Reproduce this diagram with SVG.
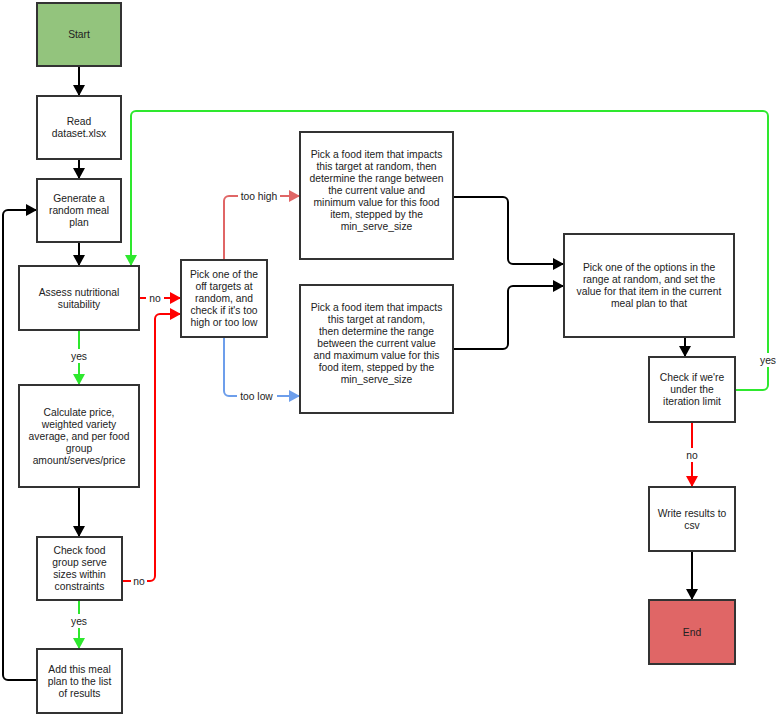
<svg xmlns="http://www.w3.org/2000/svg" width="778" height="715" viewBox="0 0 778 715">
<style>
.box{fill:#fff;stroke:#333;stroke-width:2}
.t{font-family:"Liberation Sans",Arial,sans-serif;font-size:10.3px;fill:#222;text-anchor:middle}
.c{fill:none;stroke-width:2}
.k{stroke:#000}
.r{stroke:#f00}
.g{stroke:#2ee82e}
.lr{stroke:#e06666}
.bl{stroke:#6d9eeb}
.lbl{fill:#fff}
</style>
<defs>
<marker id="ak" markerUnits="userSpaceOnUse" markerWidth="12" markerHeight="12" refX="11" refY="6" orient="auto"><path d="M0,0 L11,6 L0,12 z" fill="#000"/></marker>
<marker id="ar" markerUnits="userSpaceOnUse" markerWidth="12" markerHeight="12" refX="11" refY="6" orient="auto"><path d="M0,0 L11,6 L0,12 z" fill="#f00"/></marker>
<marker id="ag" markerUnits="userSpaceOnUse" markerWidth="12" markerHeight="12" refX="11" refY="6" orient="auto"><path d="M0,0 L11,6 L0,12 z" fill="#2ee82e"/></marker>
<marker id="alr" markerUnits="userSpaceOnUse" markerWidth="12" markerHeight="12" refX="11" refY="6" orient="auto"><path d="M0,0 L11,6 L0,12 z" fill="#e06666"/></marker>
<marker id="abl" markerUnits="userSpaceOnUse" markerWidth="12" markerHeight="12" refX="11" refY="6" orient="auto"><path d="M0,0 L11,6 L0,12 z" fill="#6d9eeb"/></marker>
</defs>

<g id="connectors">
<path class="c k" d="M79,66 V96" marker-end="url(#ak)"/>
<path class="c k" d="M79,159 V179" marker-end="url(#ak)"/>
<path class="c k" d="M79,242 V266" marker-end="url(#ak)"/>
<path class="c g" d="M79,330 V385" marker-end="url(#ag)"/>
<path class="c k" d="M79,487 V537" marker-end="url(#ak)"/>
<path class="c g" d="M79,600 V649" marker-end="url(#ag)"/>
<path class="c k" d="M36,680 H8 A5,5 0 0 1 3,675 V215 A5,5 0 0 1 8,210 H37" marker-end="url(#ak)"/>
<path class="c r" d="M139,298 H181" marker-end="url(#ar)"/>
<path class="c r" d="M122,581 H150 A5,5 0 0 0 155,576 V319 A5,5 0 0 1 160,314 H181" marker-end="url(#ar)"/>
<path class="c lr" d="M224,260 V201 A5,5 0 0 1 229,196 H300" marker-end="url(#alr)"/>
<path class="c bl" d="M224,337 V391 A5,5 0 0 0 229,396 H300" marker-end="url(#abl)"/>
<path class="c k" d="M453,197 H503 A5,5 0 0 1 508,202 V259 A5,5 0 0 0 513,264 H564" marker-end="url(#ak)"/>
<path class="c k" d="M453,349 H503 A5,5 0 0 0 508,344 V291 A5,5 0 0 1 513,286 H564" marker-end="url(#ak)"/>
<path class="c k" d="M685,337 V357" marker-end="url(#ak)"/>
<path class="c g" d="M735,390 H763 A5,5 0 0 0 768,385 V116 A5,5 0 0 0 763,111 H136 A5,5 0 0 0 131,116 V266" marker-end="url(#ag)"/>
<path class="c r" d="M692,422 V487" marker-end="url(#ar)"/>
<path class="c k" d="M692,551 V600" marker-end="url(#ak)"/>

<g id="labels">
<rect class="lbl" x="146" y="291" width="18" height="14"/><text class="t" x="155" y="301.7">no</text>
<rect class="lbl" x="68" y="349" width="22" height="14"/><text class="t" x="79" y="359.7">yes</text>
<rect class="lbl" x="131" y="574" width="16" height="14"/><text class="t" x="139" y="584.7">no</text>
<rect class="lbl" x="68" y="614" width="22" height="14"/><text class="t" x="79" y="624.7">yes</text>
<rect class="lbl" x="238" y="189" width="42" height="14"/><text class="t" x="259" y="199.7">too high</text>
<rect class="lbl" x="237" y="389" width="40" height="14"/><text class="t" x="256.5" y="399.7">too low</text>
<rect class="lbl" x="757" y="353" width="22" height="14"/><text class="t" x="768" y="363.7">yes</text>
<rect class="lbl" x="683" y="448" width="18" height="14"/><text class="t" x="692" y="458.7">no</text>
</g>
</g>

<g id="start"><rect x="37" y="3" width="84" height="63" fill="#93c47d" stroke="#333" stroke-width="2"/><text class="t" x="79" y="38.2">Start</text></g>
<g id="read"><rect class="box" x="37" y="96" width="84" height="63"/><text class="t" x="79" y="125.2">Read</text><text class="t" x="79" y="137.2">dataset.xlsx</text></g>
<g id="generate"><rect class="box" x="37" y="179" width="84" height="63"/><text class="t" x="79" y="202.2">Generate a</text><text class="t" x="79" y="214.2">random meal</text><text class="t" x="79" y="226.2">plan</text></g>
<g id="assess"><rect class="box" x="19" y="266" width="120" height="64"/><text class="t" x="79" y="295.7">Assess nutritional</text><text class="t" x="79" y="307.7">suitability</text></g>
<g id="calculate"><rect class="box" x="19" y="385" width="120" height="102"/><text class="t" x="79" y="415.7">Calculate price,</text><text class="t" x="79" y="427.7">weighted variety</text><text class="t" x="79" y="439.7">average, and per food</text><text class="t" x="79" y="451.7">group</text><text class="t" x="79" y="463.7">amount/serves/price</text></g>
<g id="checkfood"><rect class="box" x="37" y="537" width="85" height="63"/><text class="t" x="79.5" y="554.2">Check food</text><text class="t" x="79.5" y="566.2">group serve</text><text class="t" x="79.5" y="578.2">sizes within</text><text class="t" x="79.5" y="590.2">constraints</text></g>
<g id="add"><rect class="box" x="37" y="649" width="85" height="64"/><text class="t" x="79.5" y="672.7">Add this meal</text><text class="t" x="79.5" y="684.7">plan to the list</text><text class="t" x="79.5" y="696.7">of results</text></g>
<g id="pickoff"><rect class="box" x="181" y="260" width="86" height="77"/><text class="t" x="224" y="278.2">Pick one of the</text><text class="t" x="224" y="290.2">off targets at</text><text class="t" x="224" y="302.2">random, and</text><text class="t" x="224" y="314.2">check if it's too</text><text class="t" x="224" y="326.2">high or too low</text></g>
<g id="pickmin"><rect class="box" x="300" y="132" width="153" height="127"/><text class="t" x="376.5" y="157.7">Pick a food item that impacts</text><text class="t" x="376.5" y="169.7">this target at random, then</text><text class="t" x="376.5" y="181.7">determine the range between</text><text class="t" x="376.5" y="193.7">the current value and</text><text class="t" x="376.5" y="205.7">minimum value for this food</text><text class="t" x="376.5" y="217.7">item, stepped by the</text><text class="t" x="376.5" y="229.7">min_serve_size</text></g>
<g id="pickmax"><rect class="box" x="300" y="285" width="153" height="128"/><text class="t" x="376.5" y="310.7">Pick a food item that impacts</text><text class="t" x="376.5" y="322.7">this target at random,</text><text class="t" x="376.5" y="334.7">then determine the range</text><text class="t" x="376.5" y="346.7">between the current value</text><text class="t" x="376.5" y="358.7">and maximum value for this</text><text class="t" x="376.5" y="370.7">food item, stepped by the</text><text class="t" x="376.5" y="382.7">min_serve_size</text></g>
<g id="pickoption"><rect class="box" x="564" y="234" width="170" height="103"/><text class="t" x="649" y="270.7">Pick one of the options in the</text><text class="t" x="649" y="282.7">range at random, and set the</text><text class="t" x="649" y="294.7">value for that item in the current</text><text class="t" x="649" y="306.7">meal plan to that</text></g>
<g id="checkiter"><rect class="box" x="649" y="357" width="86" height="65"/><text class="t" x="692" y="381.2">Check if we're</text><text class="t" x="692" y="393.2">under the</text><text class="t" x="692" y="405.2">iteration limit</text></g>
<g id="write"><rect class="box" x="649" y="487" width="86" height="64"/><text class="t" x="692" y="516.7">Write results to</text><text class="t" x="692" y="528.7">csv</text></g>
<g id="end"><rect x="649" y="600" width="86" height="64" fill="#e06666" stroke="#333" stroke-width="2"/><text class="t" x="692" y="635.7">End</text></g>
</svg>
